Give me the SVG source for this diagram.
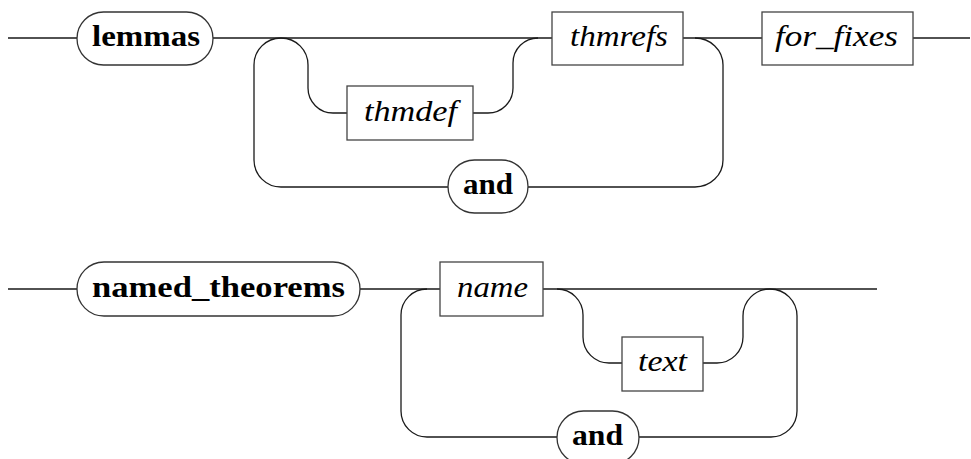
<svg xmlns="http://www.w3.org/2000/svg" width="971" height="459" viewBox="0 0 971 459">
<style>
.bg{fill:#ffffff}
.term{fill:#ffffff;stroke:#333333;stroke-width:1.3}
.nt{fill:#ffffff;stroke:#444444;stroke-width:1.3}
.wire{fill:none;stroke:#1a1a1a;stroke-width:1.3}
.tb{font-family:'Liberation Serif',serif;font-weight:bold;font-size:29px;fill:#000}
.ti{font-family:'Liberation Serif',serif;font-style:italic;font-size:29px;fill:#000}
</style>
<rect class="bg" x="0" y="0" width="971" height="459"/>
<g id="connectors">
  <path class="wire" d="M8,38 H77 M213,38 H552 M683,38 H762 M913,38 H970"/>
  <path class="wire" d="M281,38 A27,27 0 0 0 254,65 V160 A27,27 0 0 0 281,187 H448 M528,187 H695 A28,27 0 0 0 723,160 V65 A28,27 0 0 0 695,38"/>
  <path class="wire" d="M281,38 A27,27 0 0 1 308,65 V88 A25,25 0 0 0 333,113 H347 M473,113 H488 A25,25 0 0 0 513,88 V63 A25,25 0 0 1 538,38"/>
  <path class="wire" d="M8,289 H77 M360,289 H440 M543,289 H877"/>
  <path class="wire" d="M427,289 A26,26 0 0 0 401,315 V411 A26,26 0 0 0 427,437 H557 M639,437 H771 A26,26 0 0 0 797,411 V316 A27,27 0 0 0 770,289"/>
  <path class="wire" d="M557,289 A26,26 0 0 1 583,315 V337 A26,26 0 0 0 609,363 H622 M703,363 H717 A26,26 0 0 0 743,337 V316 A27,27 0 0 1 770,289"/>
</g>
<g id="node-lemmas">
  <rect class="term" x="77" y="12" width="136" height="53" rx="26.5" ry="26.5"/>
  <text class="tb" x="92" y="46" textLength="108" lengthAdjust="spacingAndGlyphs">lemmas</text>
</g>
<g id="node-thmdef">
  <rect class="nt" x="347" y="86" width="126" height="54"/>
  <text class="ti" x="364" y="121" textLength="93" lengthAdjust="spacingAndGlyphs">thmdef</text>
</g>
<g id="node-thmrefs">
  <rect class="nt" x="552" y="12" width="131" height="53"/>
  <text class="ti" x="570" y="46" textLength="98" lengthAdjust="spacingAndGlyphs">thmrefs</text>
</g>
<g id="node-for_fixes">
  <rect class="nt" x="762" y="12" width="151" height="53"/>
  <text class="ti" x="775" y="46" textLength="123" lengthAdjust="spacingAndGlyphs">for_fixes</text>
</g>
<g id="node-and-1">
  <rect class="term" x="448" y="160" width="80" height="53" rx="26.5" ry="26.5"/>
  <text class="tb" x="463" y="194" textLength="50" lengthAdjust="spacingAndGlyphs">and</text>
</g>
<g id="node-named_theorems">
  <rect class="term" x="77" y="262" width="283" height="54" rx="27" ry="27"/>
  <text class="tb" x="92" y="297" textLength="253" lengthAdjust="spacingAndGlyphs">named_theorems</text>
</g>
<g id="node-name">
  <rect class="nt" x="440" y="262" width="103" height="54"/>
  <text class="ti" x="457" y="297" textLength="71" lengthAdjust="spacingAndGlyphs">name</text>
</g>
<g id="node-text">
  <rect class="nt" x="622" y="337" width="81" height="54"/>
  <text class="ti" x="638" y="371" textLength="49" lengthAdjust="spacingAndGlyphs">text</text>
</g>
<g id="node-and-2">
  <rect class="term" x="557" y="411" width="82" height="53" rx="26.5" ry="26.5"/>
  <text class="tb" x="572" y="445" textLength="51" lengthAdjust="spacingAndGlyphs">and</text>
</g>
</svg>
